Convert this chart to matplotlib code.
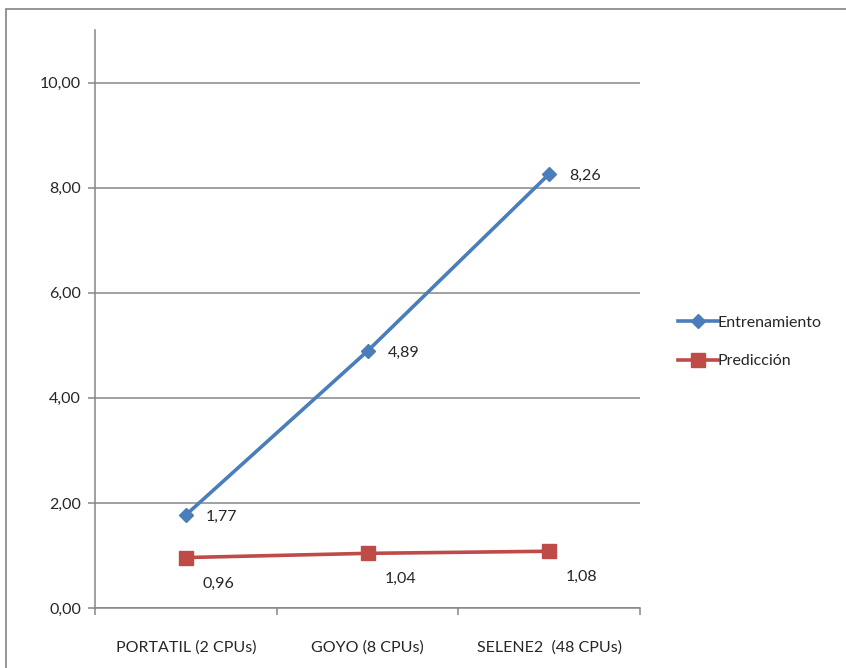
import matplotlib
matplotlib.use("Agg")
import matplotlib.pyplot as plt
from matplotlib.patches import Rectangle
from matplotlib.ticker import FuncFormatter, FixedLocator

plt.rcParams['font.family'] = ['Lato', 'DejaVu Sans']

# tiempos por máquina
machines = ['PORTATIL (2 CPUs)', 'GOYO (8 CPUs)', 'SELENE2  (48 CPUs)']
entrenamiento = [1.77, 4.89, 8.26]
prediccion = [0.96, 1.04, 1.08]

BLUE = '#4A7EBB'
RED = '#BE4B48'
GRID = '#868686'
TEXT = '#262626'
FS = 11.5

fig = plt.figure(figsize=(8.46, 6.68), dpi=100)
ax = fig.add_axes([95 / 846, 1 - 608 / 668, 545 / 846, 578 / 668])

# marco exterior del gráfico
fig.patches.append(Rectangle((6 / 846, -0.1), 1.2, 1.1 - 9 / 668, transform=fig.transFigure,
                             fill=False, edgecolor='#8c8c8c', linewidth=1.3))

x = [1, 2, 3]
ax.plot(x, entrenamiento, color=BLUE, lw=2.6, marker='D', ms=7.5, label='Entrenamiento', zorder=3)
ax.plot(x, prediccion, color=RED, lw=2.6, marker='s', ms=10, label='Predicción', zorder=3)

fmt = lambda v: f'{v:.2f}'.replace('.', ',')
for xi, v in zip(x, entrenamiento):
    ax.annotate(fmt(v), (xi, v), xytext=(20, -2), textcoords='offset pixels',
                ha='left', va='center', fontsize=FS, color=TEXT)
for xi, v in zip(x, prediccion):
    ax.annotate(fmt(v), (xi, v), xytext=(17, -26), textcoords='offset pixels',
                ha='left', va='center', fontsize=FS, color=TEXT)

ax.set_xlim(0.5, 3.5)
ax.set_ylim(0, 11)
ax.yaxis.set_major_locator(FixedLocator([0, 2, 4, 6, 8, 10]))
ax.yaxis.set_major_formatter(FuncFormatter(lambda v, p: fmt(v)))
ax.grid(axis='y', color=GRID, lw=1.1)
ax.set_axisbelow(True)

ax.set_xticks(x)
ax.set_xticklabels(machines)
ax.set_xticks([0.5, 1.5, 2.5, 3.5], minor=True)
ax.tick_params(axis='x', which='major', length=0, pad=23, labelsize=FS, labelcolor=TEXT)
ax.tick_params(axis='x', which='minor', length=5, color=GRID, width=1.1, direction='out')
ax.tick_params(axis='y', length=5, color=GRID, width=1.1, pad=5, labelsize=FS, labelcolor=TEXT)

for s in ['top', 'right']:
    ax.spines[s].set_visible(False)
for s in ['left', 'bottom']:
    ax.spines[s].set_color(GRID)
    ax.spines[s].set_linewidth(1.1)

ax.legend(loc='center left', bbox_to_anchor=(670 / 846, 1 - 342 / 668), bbox_transform=fig.transFigure,
          frameon=False, fontsize=FS, handlelength=2.5, handletextpad=0.0, labelspacing=1.5,
          borderpad=0, labelcolor=TEXT)

fig.savefig('out.png', dpi=100)
